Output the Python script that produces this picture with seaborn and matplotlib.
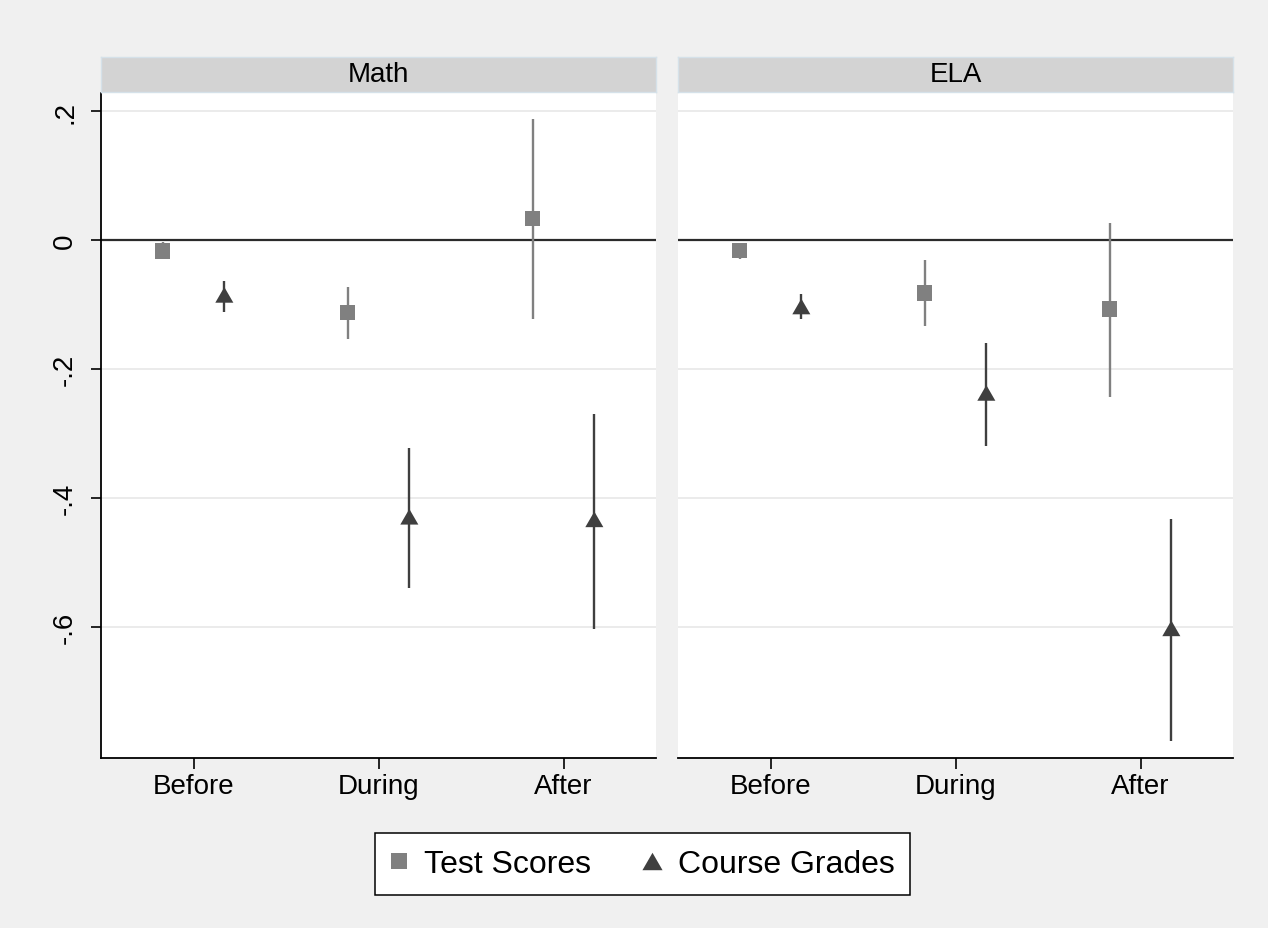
import numpy as np
import pandas as pd
import matplotlib
matplotlib.use("Agg")
import matplotlib.pyplot as plt
from matplotlib.lines import Line2D
import seaborn as sns

# ---- data -------------------------------------------------------------
subjects = ["Math", "ELA"]
periods = ["Before", "During", "After"]
outcomes = ["Test Scores", "Course Grades"]

math_test_est = [-0.017, -0.112, 0.033]
math_test_lo = [-0.030, -0.153, -0.122]
math_test_hi = [-0.003, -0.072, 0.187]

math_course_est = [-0.085, -0.429, -0.433]
math_course_lo = [-0.111, -0.539, -0.603]
math_course_hi = [-0.063, -0.323, -0.269]

ela_test_est = [-0.016, -0.082, -0.107]
ela_test_lo = [-0.029, -0.134, -0.244]
ela_test_hi = [-0.005, -0.031, 0.027]

ela_course_est = [-0.103, -0.237, -0.602]
ela_course_lo = [-0.122, -0.320, -0.776]
ela_course_hi = [-0.084, -0.159, -0.432]

y_ticks = [0.2, 0.0, -0.2, -0.4, -0.6]
y_ticklabels = [".2", "0", "-.2", "-.4", "-.6"]

# ---- long-form table ---------------------------------------------------
series = {
    ("Math", "Test Scores"): (math_test_est, math_test_lo, math_test_hi),
    ("Math", "Course Grades"): (math_course_est, math_course_lo, math_course_hi),
    ("ELA", "Test Scores"): (ela_test_est, ela_test_lo, ela_test_hi),
    ("ELA", "Course Grades"): (ela_course_est, ela_course_lo, ela_course_hi),
}
rows = []
for (subj, outc), (est, lo, hi) in series.items():
    for i, p in enumerate(periods):
        rows.append(dict(subject=subj, outcome=outc, period=p,
                         est=est[i], lo=lo[i], hi=hi[i]))
df = pd.DataFrame(rows)

# side-by-side dodge of the two outcomes within a period
dodge = {"Test Scores": -1 / 6, "Course Grades": 1 / 6}
df["xpos"] = df["period"].map({p: i + 1 for i, p in enumerate(periods)}) + df["outcome"].map(dodge)

colors = {"Test Scores": "#808080", "Course Grades": "#3f3f3f"}
tri = [(-1, -0.866), (1, -0.866), (0, 0.866)]
markers = {"Test Scores": "s", "Course Grades": tri}
sizes = {"Test Scores": 11.0 ** 2, "Course Grades": 13.0 ** 2}

# ---- figure ------------------------------------------------------------
sns.set_style("white")
plt.rcParams["font.family"] = ["Liberation Sans", "DejaVu Sans"]
plt.rcParams["text.color"] = "black"
plt.rcParams["xtick.color"] = "black"
plt.rcParams["ytick.color"] = "black"
plt.rcParams["axes.labelcolor"] = "black"

W, H = 1268, 929
fig = plt.figure(figsize=(W / 100, H / 100), dpi=100, facecolor="#f0f0f0")

def fx(px):
    return px / W

def fy(py):
    return 1 - py / H

panel_left = [101, 678]
panel_w = 555
plot_top, plot_bot = 94, 759
strip_top = 58

ylim = (-0.803, 0.228)

for k, subj in enumerate(subjects):
    x0 = panel_left[k]
    ax = fig.add_axes([fx(x0), fy(plot_bot), fx(panel_w), (plot_bot - plot_top) / H])
    ax.set_facecolor("white")
    sub = df[df["subject"] == subj]

    # grid, reference line
    for yv in y_ticks:
        if yv != 0:
            ax.axhline(yv, color="#e8e8e8", lw=1.2, zorder=0)
    ax.axhline(0, color="#2b2b2b", lw=1.6, zorder=1)

    # confidence intervals
    for outc in outcomes:
        s = sub[sub["outcome"] == outc]
        ax.vlines(s["xpos"], s["lo"], s["hi"], color=colors[outc], lw=1.7, zorder=2)

    # point estimates
    for outc in outcomes:
        s = sub[sub["outcome"] == outc]
        sns.scatterplot(data=s, x="xpos", y="est", ax=ax, marker=markers[outc],
                        s=sizes[outc], color=colors[outc], edgecolor="none",
                        linewidth=0, zorder=3, legend=False)

    ax.set_xlim(0.5, 3.5)
    ax.set_ylim(*ylim)
    ax.set_xticks([1, 2, 3])
    ax.set_xticklabels(periods, fontsize=20)
    ax.set_xlabel("")
    ax.set_ylabel("")
    ax.tick_params(axis="x", length=8, width=1.2, color="black", labelcolor="black",
                   pad=3, direction="out", bottom=True)
    for side in ["top", "right"]:
        ax.spines[side].set_visible(False)
    ax.spines["bottom"].set_color("black")
    ax.spines["bottom"].set_linewidth(1.3)
    if k == 0:
        ax.set_yticks(y_ticks)
        ax.set_yticklabels(y_ticklabels, fontsize=20, rotation=90, va="center")
        ax.tick_params(axis="y", length=7.5, width=1.2, color="black",
                       labelcolor="black", pad=9, direction="out", left=True)
        ax.spines["left"].set_color("black")
        ax.spines["left"].set_linewidth(1.3)
    else:
        ax.set_yticks(y_ticks)
        ax.set_yticklabels([])
        ax.tick_params(axis="y", length=0, left=False)
        ax.spines["left"].set_visible(False)

    # facet strip
    sax = fig.add_axes([fx(x0), fy(plot_top - 1), fx(panel_w), (plot_top - 1 - strip_top) / H])
    sax.set_facecolor("#d3d3d3")
    sax.set_xticks([])
    sax.set_yticks([])
    for sp in sax.spines.values():
        sp.set_color("#d5e1e9")
        sp.set_linewidth(1.0)
    sax.text(0.5, 0.5, subj, ha="center", va="center", fontsize=20,
             color="black", transform=sax.transAxes)

# legend
handles = [
    Line2D([], [], linestyle="none", marker="s", markersize=11.5,
           color=colors["Test Scores"], markeredgewidth=0),
    Line2D([], [], linestyle="none", marker=tri, markersize=14.5,
           color=colors["Course Grades"], markeredgewidth=0),
]
leg = fig.legend(handles, outcomes, loc="center",
                 bbox_to_anchor=(fx(642.5), fy(865)), ncol=2, fontsize=23,
                 frameon=True, fancybox=False, edgecolor="black",
                 facecolor="white", framealpha=1, handlelength=0.5,
                 handletextpad=0.55, columnspacing=1.65, borderpad=0.5,
                 borderaxespad=0)
leg.get_frame().set_linewidth(1.1)
for t in leg.get_texts():
    t.set_color("black")

fig.savefig("out.png", dpi=100, facecolor=fig.get_facecolor())
